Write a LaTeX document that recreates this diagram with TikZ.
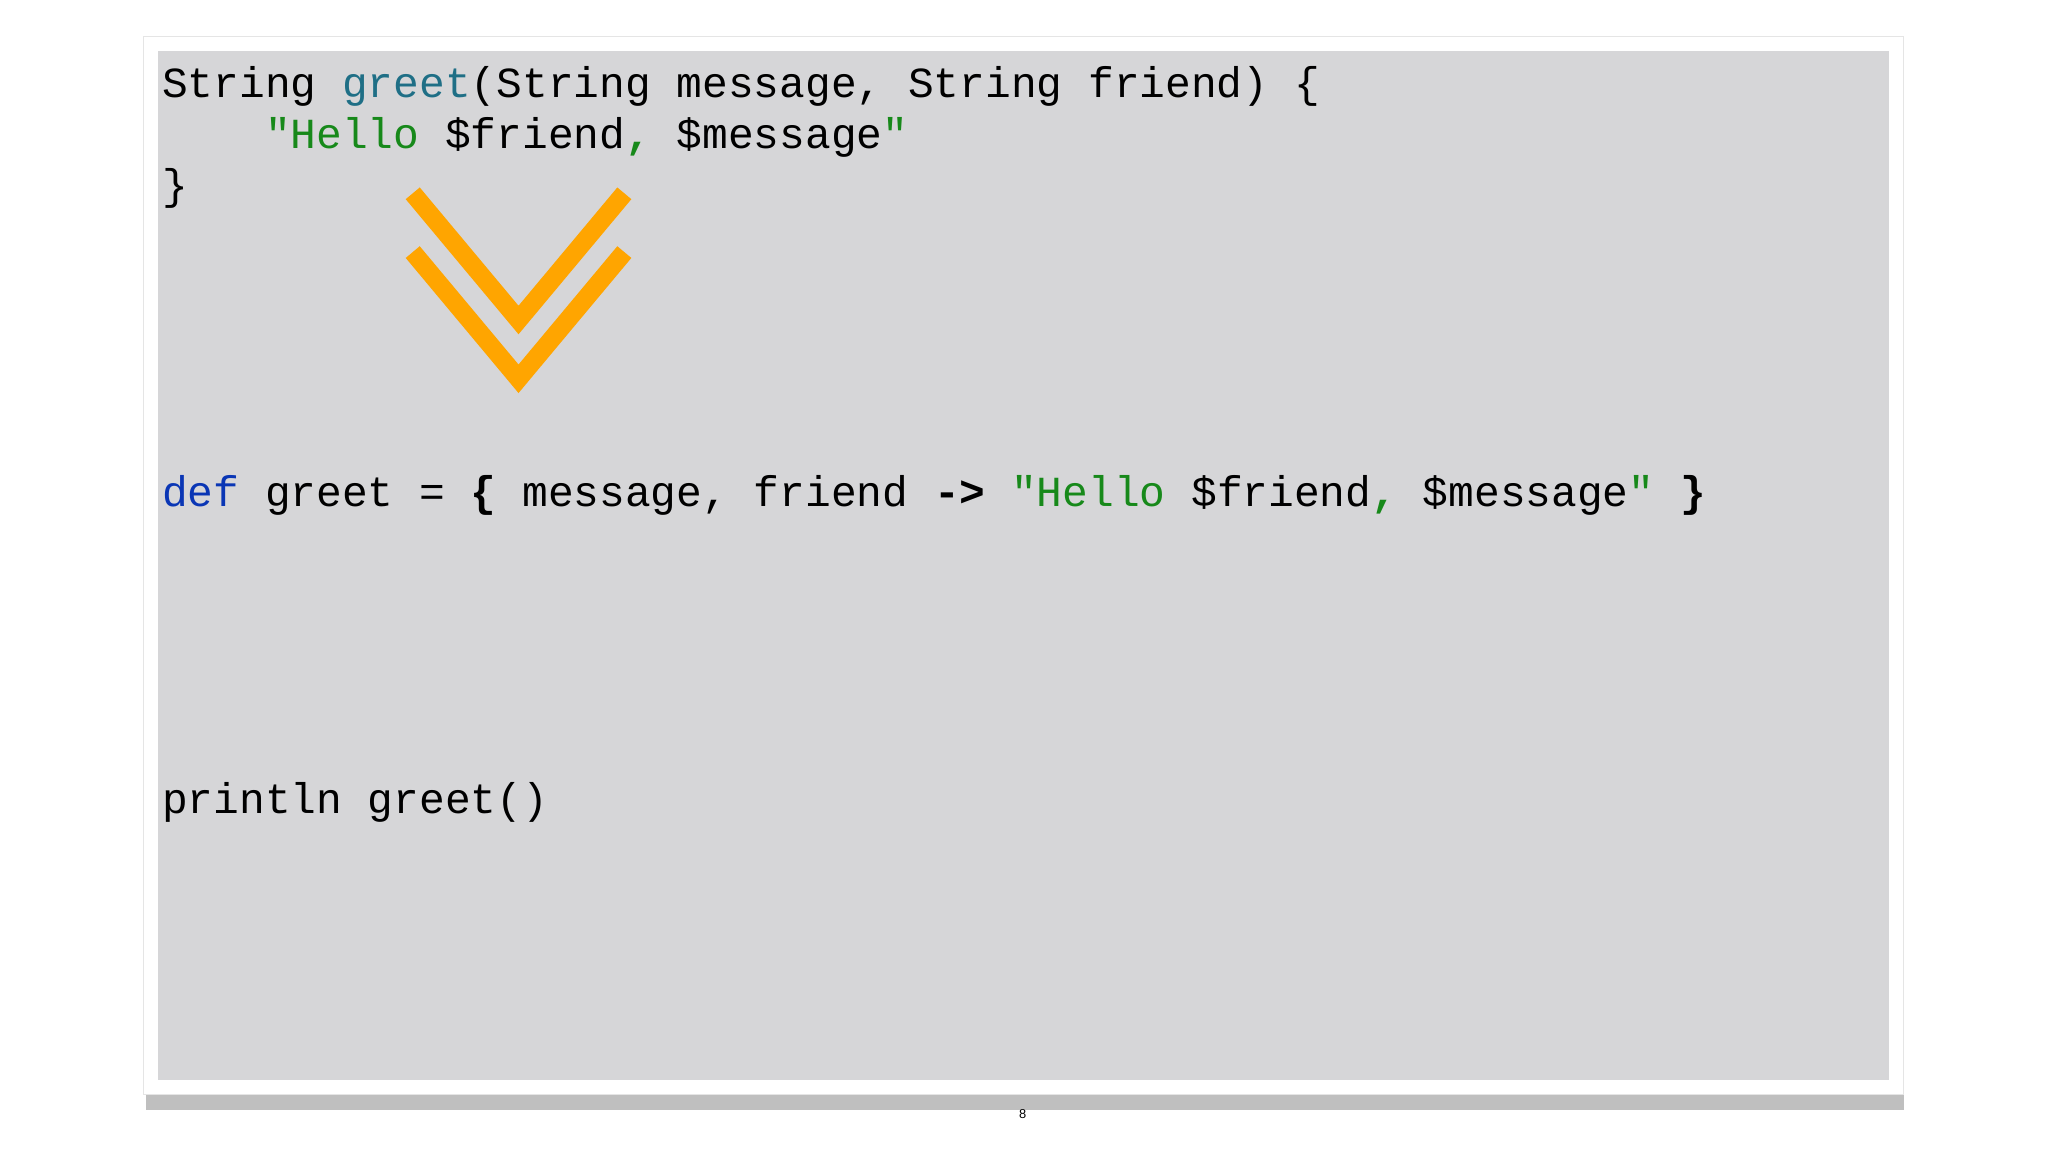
\documentclass[tikz,border=0pt]{standalone}
\usepackage{fontspec}
\setmonofont{Liberation Mono}
\setsansfont{Liberation Sans}
\definecolor{slidegray}{HTML}{D6D6D8}
\definecolor{teal2}{HTML}{1F6F86}
\definecolor{strgreen}{HTML}{17891A}
\definecolor{kwblue}{HTML}{0A36B5}
\definecolor{chev}{HTML}{FFA500}
\tikzset{code/.style={anchor=base west,inner sep=0pt,font=\fontsize{46.7}{50}\selectfont\ttfamily},
chevline/.style={draw=chev,line width=7mm,line cap=butt,line join=miter}}
\begin{document}
\begin{tikzpicture}[x=0.5mm,y=-0.5mm]
\useasboundingbox (0,0) rectangle (1568,882);
\fill[white] (0,0) rectangle (1568,882);
\fill[black!25] (112,836) rectangle (1458,850);
\fill[white,draw=black!10] (110,28) rectangle (1457,838);
\fill[slidegray] (121,39) rectangle (1446,827);
\node[code] (l1) at (124,75) {String \textcolor{teal2}{greet}(String message, String friend) \{};
\node[code] (l2) at (124,114) {\phantom{xxxx}\textcolor{strgreen}{"Hello }\$friend\textcolor{strgreen}{\bfseries,} \$message\textcolor{strgreen}{"}};
\node[code] (l3) at (124,153) {\}};
\node[code] (l4) at (124,388) {\textcolor{kwblue}{def} greet = \textbf{\{} message, friend \textbf{->} \textcolor{strgreen}{"Hello }\$friend\textcolor{strgreen}{\bfseries,} \$message\textcolor{strgreen}{"} \textbf{\}}};
\node[code] (l5) at (124,623) {println greet()};
\node[font=\sffamily\fontsize{14}{16}\selectfont] (pg) at (783,853) {8};
\draw[chevline] (316,148) -- (397,245) -- (478,148);
\draw[chevline] (316,193) -- (397,290) -- (478,193);
\end{tikzpicture}
\end{document}
